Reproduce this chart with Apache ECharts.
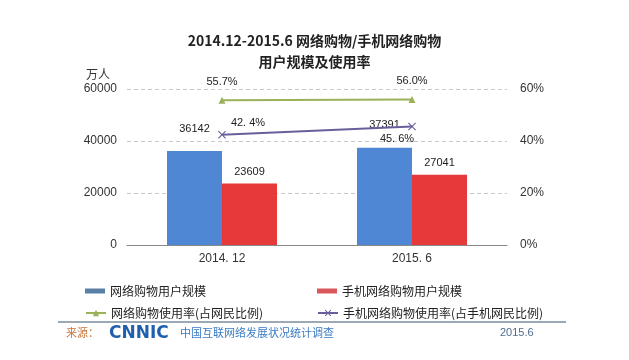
<!DOCTYPE html>
<html>
<head>
<meta charset="utf-8">
<script src="https://cdn.jsdelivr.net/npm/echarts@6/dist/echarts.min.js"></script>
<style>html,body{margin:0;padding:0;background:#fff}#c{width:629px;height:360px}</style>
</head>
<body>
<div id="c"></div>
<script>
var categories = ['2014. 12', '2015. 6'];
var netShopUsers = [36142, 37391];
var mobileShopUsers = [23609, 27041];
var netShopRate = [55.7, 56.0];
var mobileShopRate = [42.4, 45.6];
var leftTicks = [0, 20000, 40000, 60000];
var rightTicks = [0, 20, 40, 60];
var seriesNames = ['网络购物用户规模', '手机网络购物用户规模', '网络购物使用率(占网民比例)', '手机网络购物使用率(占手机网民比例)'];

var FONT = '"Liberation Sans", "Noto Sans CJK SC", sans-serif';
var CJK = '"Noto Sans CJK SC", sans-serif';
var xPath = 'path://M0,1L1,0L5,4L9,0L10,1L6,5L10,9L9,10L5,6L1,10L0,9L4,5Z';

var chart = echarts.init(document.getElementById('c'), null, {renderer: 'canvas'});
var legendBase = {
  itemWidth: 20, itemHeight: 8, itemGap: 6,
  textStyle: {fontFamily: CJK, fontSize: 12, color: '#222'},
  selectedMode: false
};
chart.setOption({
  backgroundColor: '#fff',
  animation: false,
  title: {
    text: '2014.12-2015.6 网络购物/手机网络购物\n用户规模及使用率',
    left: 'center', top: 25,
    textStyle: {fontFamily: CJK, fontSize: 14, fontWeight: 'bold', color: '#222', lineHeight: 21}
  },
  legend: [
    Object.assign({}, legendBase, {data: [{name: seriesNames[0], icon: 'rect', itemStyle: {color: '#5a7fa8'}}], left: 80, top: 280, itemHeight: 5}),
    Object.assign({}, legendBase, {data: [{name: seriesNames[1], icon: 'rect', itemStyle: {color: '#d9575b'}}], left: 312, top: 280, itemHeight: 5}),
    Object.assign({}, legendBase, {data: [seriesNames[2]], left: 80, top: 302}),
    Object.assign({}, legendBase, {data: [seriesNames[3]], left: 312, top: 302})
  ],
  grid: {left: 127, right: 122, top: 89, bottom: 115},
  xAxis: {
    type: 'category', data: categories,
    axisLine: {lineStyle: {color: '#888'}},
    axisTick: {show: false},
    axisLabel: {fontFamily: FONT, fontSize: 12, color: '#333', margin: 8}
  },
  yAxis: [
    {
      type: 'value', min: 0, max: 60000, interval: 20000,
      axisLine: {show: false}, axisTick: {show: false},
      splitLine: {lineStyle: {color: '#c8c8c8', type: [4, 3]}},
      axisLabel: {fontFamily: FONT, fontSize: 12, color: '#333', margin: 10,
        formatter: function (v) { return String(v); }}
    },
    {
      type: 'value', min: 0, max: 60, interval: 20,
      axisLine: {show: false}, axisTick: {show: false},
      splitLine: {show: false},
      axisLabel: {fontFamily: FONT, fontSize: 12, color: '#333', margin: 13, formatter: '{value}%'}
    }
  ],
  series: [
    {
      name: seriesNames[0], type: 'bar', data: netShopUsers, barWidth: 55, barGap: '0%',
      itemStyle: {color: '#4f87d4'},
      label: {show: true, position: 'top', distance: 17, fontFamily: FONT, fontSize: 11, color: '#222'}
    },
    {
      name: seriesNames[1], type: 'bar', data: mobileShopUsers, barWidth: 55,
      itemStyle: {color: '#e8393a'},
      label: {show: true, position: 'top', distance: 6, fontFamily: FONT, fontSize: 11, color: '#222'}
    },
    {
      name: seriesNames[2], type: 'line', yAxisIndex: 1, data: netShopRate,
      symbol: 'triangle', symbolSize: 7,
      lineStyle: {color: '#9bb15a', width: 2}, itemStyle: {color: '#9bb15a'},
      label: {show: true, position: 'top', distance: 9, fontFamily: FONT, fontSize: 11, color: '#222',
        formatter: function (p) { return p.value.toFixed(1) + '%'; }}
    },
    {
      name: seriesNames[3], type: 'line', yAxisIndex: 1,
      data: [
        {value: mobileShopRate[0], label: {position: 'top', offset: [26, 3]}},
        {value: mobileShopRate[1], label: {position: 'bottom', offset: [-15, -2]}}
      ],
      symbol: xPath, symbolSize: 8,
      lineStyle: {color: '#6a5f9c', width: 2}, itemStyle: {color: '#6a5f9c'},
      label: {show: true, fontFamily: FONT, fontSize: 11, color: '#222',
        formatter: function (p) { return p.value.toFixed(1).replace('.', '. ') + '%'; }}
    }
  ],
  graphic: [
    {type: 'text', left: 86, top: 68, style: {text: '万人', font: '12px ' + CJK, fill: '#333'}},
    {type: 'line', shape: {x1: 58, y1: 322, x2: 566, y2: 322}, style: {stroke: '#7b8c9c', lineWidth: 1.5}},
    {type: 'text', left: 66, top: 327, style: {text: '来源：', font: '11px ' + CJK, fill: '#c8743a'}},
    {type: 'text', left: 109, top: 325, style: {text: 'CNNIC', font: 'bold 17px "DejaVu Sans", sans-serif', fill: '#1f5fae'}},
    {type: 'text', left: 180, top: 327, style: {text: '中国互联网络发展状况统计调查', font: '11px ' + CJK, fill: '#3a7cc4'}},
    {type: 'text', left: 500, top: 327, style: {text: '2015.6', font: '11px ' + FONT, fill: '#4d6d8d'}}
  ]
});
</script>
</body>
</html>
